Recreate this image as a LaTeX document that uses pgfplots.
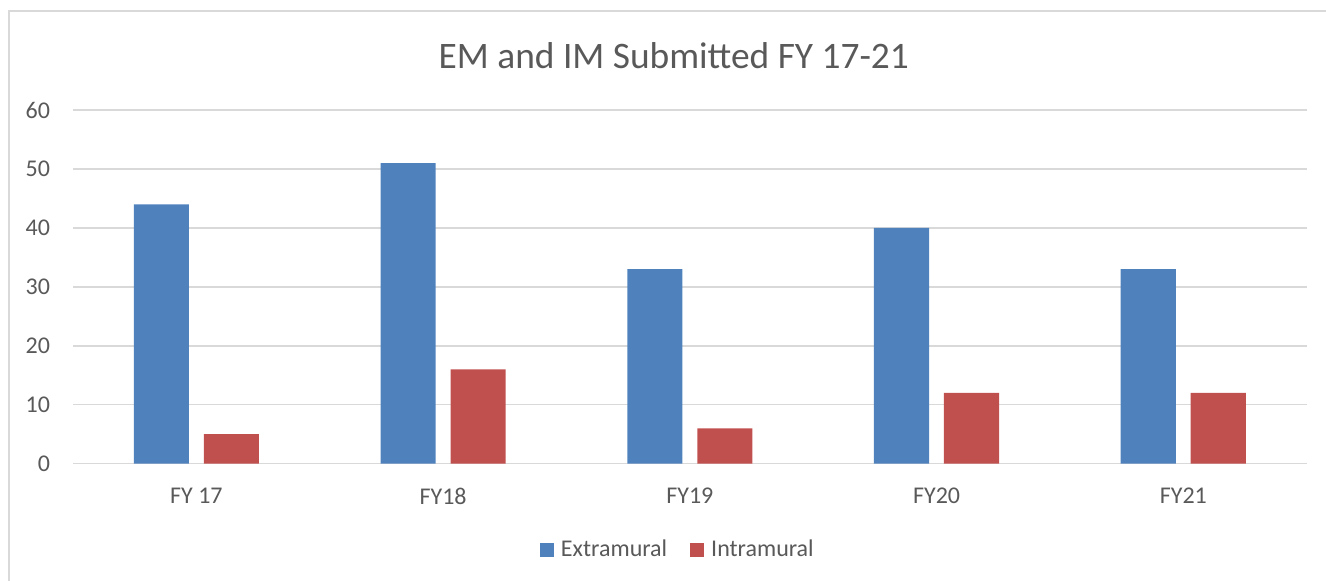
\documentclass[border=0pt]{standalone}
\usepackage{pgfplots}
\pgfplotsset{compat=1.18}
\usepackage{fontspec}
\setmainfont{Carlito}
\definecolor{emblue}{HTML}{4F81BD}
\definecolor{imred}{HTML}{C0504D}
\definecolor{txt}{HTML}{595959}
\definecolor{gridg}{HTML}{D9D9D9}
\begin{document}
\begin{tikzpicture}
\useasboundingbox (0,0) rectangle (663pt,290.5pt);
\draw[gridg, line width=0.8pt] (4.5pt,-2pt) -- (4.5pt,285pt) -- (670pt,285pt);
\begin{axis}[
  at={(36.5pt,58.65pt)}, anchor=south west,
  scale only axis, width=616.85pt, height=176.85pt,
  xmin=-0.5, xmax=4.5, ymin=0, ymax=60,
  ytick={0,10,...,60},
  xtick={0,1,2,3,4},
  xticklabels={FY 17,FY18,FY19,FY20,FY21},
  major tick length=0pt,
  axis line style={draw=none},
  ymajorgrids, grid style={gridg, line width=0.75pt},
  ticklabel style={font=\fontsize{12}{14}\selectfont, text=txt},
  /pgf/number format/assume math mode=true,
  yticklabel style={xshift=-8pt},
  xticklabel style={yshift=-8.5pt},
  title={EM and IM Submitted FY 17-21},
  title style={at={(0.5,1)}, anchor=center, xshift=-8pt, yshift=21pt, font=\fontsize{18.7}{22}\selectfont, text=txt},
  ybar, bar width=27.6pt,
  legend style={at={(0.5,-0.237)}, anchor=center, xshift=-5.5pt, yshift=-1pt, draw=none, legend columns=2,
    font=\fontsize{12}{14}\selectfont, text=txt,
    /tikz/every odd column/.append style={column sep=1.5pt},
    /tikz/every even column/.append style={column sep=9.5pt}},
  legend image code/.code={\fill[#1] (0pt,-3.5pt) rectangle (7pt,3.5pt);},
]
\addplot[fill=emblue, draw=none, bar shift=-17.5pt] coordinates {(0,44) (1,51) (2,33) (3,40) (4,33)};
\addplot[fill=imred, draw=none, bar shift=17.5pt] coordinates {(0,5) (1,16) (2,6) (3,12) (4,12)};
\legend{Extramural,Intramural}
\end{axis}
\end{tikzpicture}
\end{document}
